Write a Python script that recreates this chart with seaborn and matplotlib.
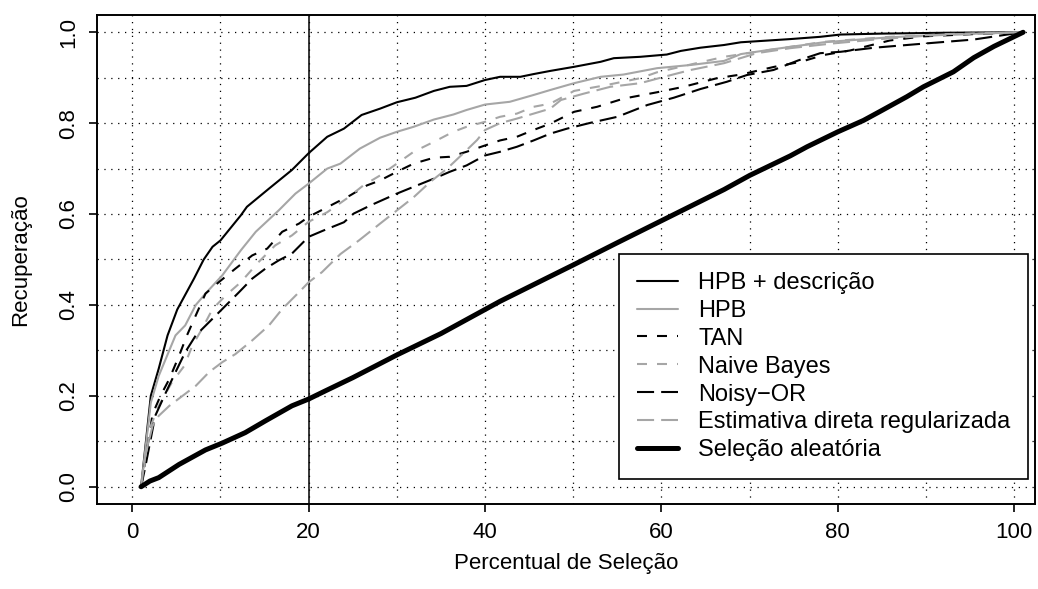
import numpy as np
import pandas as pd
import matplotlib
matplotlib.use("Agg")
import matplotlib.pyplot as plt
import seaborn as sns

# curves (x = percentual, y = recuperacao)
hpb_desc_x = [1, 2.1, 3.0, 4.0, 5.1, 7.0, 8.1, 9.1, 10, 12.3, 13, 15.5, 18.1, 20, 22.1, 24, 26, 28.1,
              30, 32.1, 34.2, 36, 37.9, 40, 41.7, 44, 45.5, 47.4, 50.1, 53.1, 54.6, 57.6, 60.6, 62.2,
              64.4, 67.1, 69, 74.6, 78, 80.3, 84.8, 92.4, 101]
hpb_desc_y = [0, 0.20, 0.26, 0.333, 0.39, 0.458, 0.50, 0.528, 0.542, 0.597, 0.616, 0.656, 0.697, 0.734,
              0.770, 0.788, 0.818, 0.832, 0.846, 0.856, 0.871, 0.880, 0.882, 0.895, 0.902, 0.902, 0.908,
              0.915, 0.924, 0.935, 0.943, 0.946, 0.951, 0.959, 0.966, 0.972, 0.978, 0.985, 0.990, 0.995,
              0.997, 0.999, 1.0]

hpb_x = [1, 2.1, 3.0, 4.9, 6.0, 7.2, 8.3, 10.2, 12.3, 14.0, 16.6, 18.5, 20, 22.1, 23.6, 25.8, 28.1, 30,
         31.9, 34.2, 36.4, 37.9, 40, 42.8, 45.5, 47.4, 50.1, 53.1, 55.7, 59.5, 63.3, 67.1, 69, 72.8,
         78.4, 85.9, 92.4, 101]
hpb_y = [0, 0.185, 0.244, 0.333, 0.355, 0.40, 0.425, 0.465, 0.52, 0.561, 0.608, 0.645, 0.667, 0.700,
         0.711, 0.744, 0.768, 0.781, 0.792, 0.808, 0.819, 0.829, 0.841, 0.847, 0.862, 0.873, 0.888,
         0.902, 0.907, 0.921, 0.928, 0.937, 0.952, 0.963, 0.978, 0.989, 0.995, 1.0]

tan_x = [1, 1.5, 2.3, 3.2, 4.2, 5.3, 6.2, 7.2, 8.3, 9.8, 11.7, 13.6, 15.3, 17.0, 18.9, 20, 22.1, 24.7,
         26.6, 28.1, 30, 31.9, 34.2, 36, 37.9, 40, 41.7, 43.6, 45.5, 47.4, 50.1, 52.7, 55.7, 59.5, 62.5,
         66.3, 69, 72.8, 75.8, 78.4, 81.4, 85.9, 89.7, 95.4, 101]
tan_y = [0, 0.06, 0.16, 0.20, 0.237, 0.288, 0.333, 0.377, 0.425, 0.45, 0.48, 0.509, 0.524, 0.561, 0.579,
         0.594, 0.615, 0.641, 0.663, 0.674, 0.693, 0.711, 0.724, 0.726, 0.737, 0.751, 0.762, 0.770, 0.785,
         0.799, 0.825, 0.836, 0.854, 0.868, 0.88, 0.899, 0.907, 0.924, 0.935, 0.95, 0.96, 0.982, 0.991,
         0.996, 1.0]

nb_x = [1, 2.1, 3.0, 4.5, 5.9, 6.8, 7.9, 9.1, 10.6, 12.3, 14.3, 16.2, 18.1, 20, 22.1, 24.3, 26.2, 28.1,
        30, 31.9, 34.2, 36.4, 37.9, 40, 41.7, 43.6, 45.5, 47.4, 50.1, 53.8, 57.6, 59.5, 63.3, 67.1, 70.8,
        74.6, 78.4, 85.9, 92.4, 101]
nb_y = [0, 0.134, 0.178, 0.23, 0.266, 0.31, 0.347, 0.391, 0.421, 0.45, 0.494, 0.531, 0.553, 0.583, 0.604,
        0.634, 0.663, 0.685, 0.711, 0.737, 0.759, 0.781, 0.792, 0.803, 0.814, 0.821, 0.836, 0.843, 0.871,
        0.884, 0.899, 0.912, 0.929, 0.946, 0.957, 0.968, 0.979, 0.99, 0.996, 1.0]

noisy_x = [1, 1.5, 2.6, 3.8, 4.9, 6.0, 7.2, 8.7, 10.2, 12.1, 13.6, 15.1, 16.6, 18.1, 20, 21.7, 24, 25.1,
           27, 30, 31.9, 34.2, 36, 37.9, 40, 41.7, 43.6, 45.5, 47.4, 49.3, 52, 55, 58.4, 61.4, 64.4, 67.4,
           69.7, 72.7, 75.5, 78, 80.3, 84.1, 89.7, 95.4, 99.2, 101]
noisy_y = [0, 0.046, 0.156, 0.207, 0.252, 0.296, 0.333, 0.362, 0.391, 0.428, 0.458, 0.48, 0.498, 0.513,
           0.55, 0.564, 0.582, 0.601, 0.619, 0.645, 0.66, 0.678, 0.693, 0.707, 0.729, 0.737, 0.748, 0.762,
           0.777, 0.788, 0.801, 0.814, 0.84, 0.856, 0.875, 0.891, 0.906, 0.917, 0.938, 0.954, 0.957, 0.966,
           0.975, 0.984, 0.995, 1.0]

est_x = [1, 1.5, 2.3, 3.0, 4.2, 5.7, 7.2, 8.7, 10.2, 11.7, 13.6, 15.5, 17.0, 18.9, 20, 21.5, 23.6, 25.7,
         28.1, 30, 31.9, 33.8, 35.7, 37.5, 39.1, 40, 41.7, 43.6, 45.5, 47.4, 48.6, 51.2, 54.2, 57.6, 60.3,
         63.3, 67.1, 70.8, 74.6, 79.2, 84.8, 90.5, 101]
est_y = [0, 0.07, 0.134, 0.156, 0.178, 0.20, 0.222, 0.252, 0.274, 0.292, 0.322, 0.355, 0.391, 0.428, 0.45,
         0.472, 0.512, 0.542, 0.579, 0.608, 0.637, 0.671, 0.70, 0.733, 0.763, 0.785, 0.80, 0.81, 0.821,
         0.832, 0.851, 0.865, 0.88, 0.888, 0.902, 0.917, 0.932, 0.954, 0.965, 0.975, 0.985, 0.993, 1.0]

rand_x = [1, 2, 3, 5.3, 8.3, 10.2, 12.8, 15.1, 18.1, 20, 21.9, 25, 30, 35, 38.3, 41.7, 47.4, 50, 55, 61,
          67.1, 70, 74.6, 76.5, 80, 82.9, 84.8, 87.8, 89.7, 93.1, 95.4, 97.7, 101]
rand_y = [0, 0.0125, 0.02, 0.049, 0.081, 0.096, 0.119, 0.145, 0.178, 0.193, 0.211, 0.24, 0.29, 0.337,
          0.372, 0.408, 0.463, 0.488, 0.537, 0.595, 0.654, 0.685, 0.728, 0.748, 0.781, 0.806, 0.826, 0.858,
          0.88, 0.913, 0.944, 0.969, 1.0]

labels = ["HPB + descrição", "HPB", "TAN", "Naive Bayes", "Noisy\u2212OR",
          "Estimativa direta regularizada", "Seleção aleatória"]

sns.set_theme(style="white")
plt.rcParams["font.family"] = ["Liberation Sans", "DejaVu Sans"]
plt.rcParams["text.color"] = "black"
plt.rcParams["axes.labelcolor"] = "black"

GRAY = "#a6a6a6"
short = (0, (4.8, 4.8))
long_ = (0, (8.2, 3.4))
FS = 16

fig = plt.figure(figsize=(10.38, 5.89), dpi=100)
ax = fig.add_axes([97 / 1038, 1 - 504 / 589, (1035 - 97) / 1038, (504 - 15) / 589])

series = [
    (hpb_desc_x, hpb_desc_y, "black", "-", 1.5),
    (hpb_x, hpb_y, GRAY, "-", 1.5),
    (tan_x, tan_y, "black", short, 1.5),
    (nb_x, nb_y, GRAY, short, 1.5),
    (noisy_x, noisy_y, "black", long_, 1.5),
    (est_x, est_y, GRAY, long_, 1.5),
    (rand_x, rand_y, "black", "-", 3.6),
]
for (xs, ys, col, ls, lw), lab in zip(series, labels):
    sns.lineplot(x=xs, y=ys, ax=ax, color=col, linestyle=ls, lw=lw, label=lab,
                 estimator=None, sort=False)

ax.axvline(20, color="black", lw=1.1, zorder=1)

ax.set_xlim(-4.0, 102.35)
ax.set_ylim(-0.038, 1.038)
ax.set_xticks(np.arange(0, 101, 20))
ax.set_xticks(np.arange(0, 101, 10), minor=True)
ax.set_yticks(np.arange(0, 1.01, 0.2))
ax.set_yticks(np.arange(0, 1.01, 0.1), minor=True)
ax.set_yticklabels([f"{v:.1f}" for v in np.arange(0, 1.01, 0.2)], rotation=90, va="center")
ax.grid(True, which="both", color="black", lw=0.9, linestyle=(0, (1, 4.5)))
ax.tick_params(which="major", direction="out", length=6, width=1.2, color="black",
               labelcolor="black", labelsize=FS, pad=7, bottom=True, left=True)
ax.tick_params(which="minor", length=0)
for sp in ax.spines.values():
    sp.set_color("black")
    sp.set_linewidth(1.4)

ax.set_xlabel("Percentual de Seleção", fontsize=FS, labelpad=7)
ax.set_ylabel("Recuperação", fontsize=FS, labelpad=19)

leg = ax.legend(loc="lower right", bbox_to_anchor=(0.9925, 0.051), fontsize=17, frameon=True,
                fancybox=False, framealpha=1, edgecolor="black", handlelength=1.75,
                handletextpad=0.85, labelspacing=0.25, borderpad=0.75, borderaxespad=0)
leg.get_frame().set_linewidth(1.2)

fig.savefig("out.png", dpi=100)
